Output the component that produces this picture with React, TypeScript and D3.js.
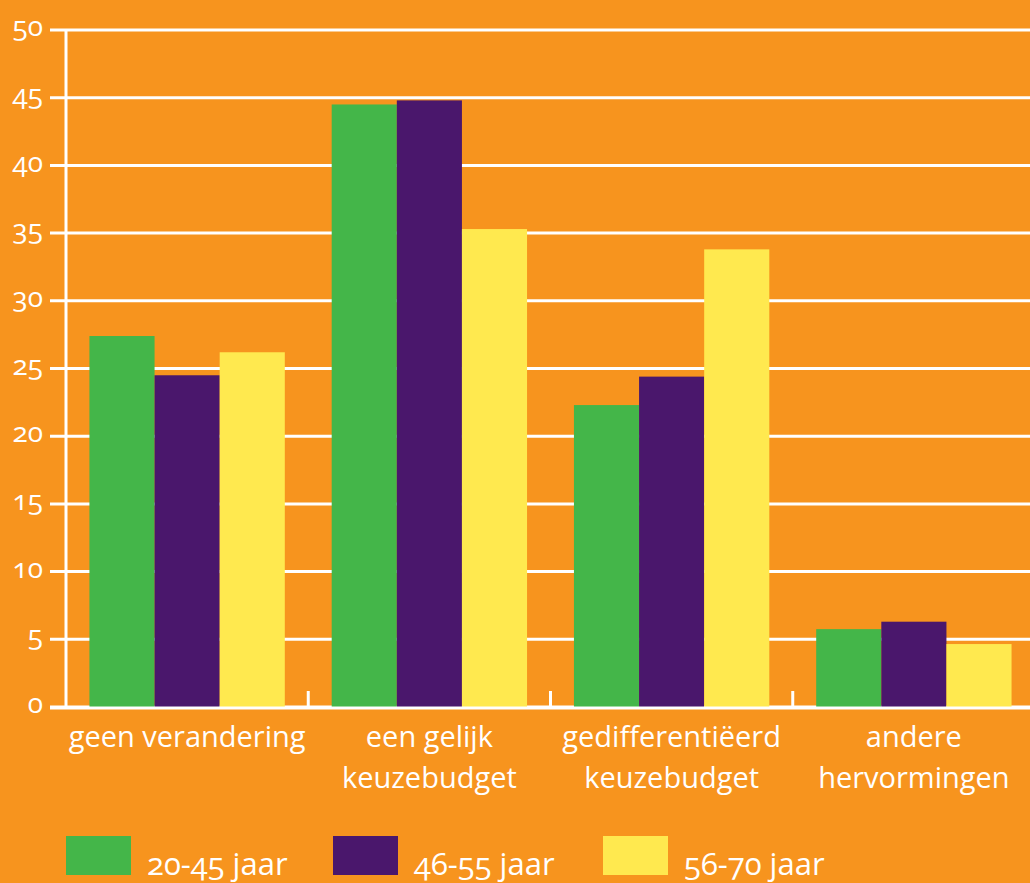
import { useRef, useEffect } from 'react';
import * as d3 from 'd3';

const categories = [
  ['geen verandering'],
  ['een gelijk', 'keuzebudget'],
  ['gedifferentiëerd', 'keuzebudget'],
  ['andere', 'hervormingen'],
];
const seriesNames = ['20-45 jaar', '46-55 jaar', '56-70 jaar'];
const seriesColors = ['#44B649', '#4A176C', '#FFE94F'];
const age20to45 = [27.4, 44.5, 22.3, 5.75];
const age46to55 = [24.5, 44.8, 24.4, 6.3];
const age56to70 = [26.2, 35.3, 33.8, 4.65];
const yTicks = [0, 5, 10, 15, 20, 25, 30, 35, 40, 45, 50];

const BG = '#F7941E';
const FONT = "'Open Sans', 'DejaVu Sans', sans-serif";

export default function App() {
  const svgRef = useRef<SVGSVGElement>(null);

  useEffect(() => {
    if (!svgRef.current) return;
    document.body.style.margin = '0';
    const width = 1030;
    const height = 883;
    const svg = d3.select(svgRef.current);
    svg.selectAll('*').remove();
    svg.attr('width', width).attr('height', height);

    svg.append('rect').attr('width', width).attr('height', height).attr('fill', BG);

    const series = [age20to45, age46to55, age56to70];
    const catKeys = categories.map((c) => c.join(' '));

    const x = d3.scaleBand<string>().domain(catKeys).range([66, 1035]);
    const inner = d3
      .scaleBand<number>()
      .domain(d3.range(series.length))
      .range([0, x.bandwidth()])
      .paddingOuter(0.36)
      .paddingInner(0);
    const y = d3.scaleLinear().domain([0, 50]).range([707, 30]);

    // gridlines
    svg
      .append('g')
      .selectAll('line')
      .data(yTicks)
      .enter()
      .append('line')
      .attr('x1', 50)
      .attr('x2', width)
      .attr('y1', (d) => y(d))
      .attr('y2', (d) => y(d))
      .attr('stroke', '#fff')
      .attr('stroke-width', 3);

    // y axis line
    svg
      .append('line')
      .attr('x1', 66)
      .attr('x2', 66)
      .attr('y1', y(50))
      .attr('y2', y(0))
      .attr('stroke', '#fff')
      .attr('stroke-width', 3);

    // y tick labels
    svg
      .append('g')
      .selectAll('text')
      .data(yTicks)
      .enter()
      .append('text')
      .attr('x', 43)
      .attr('y', (d) => y(d))
      .attr('dy', '0.22em')
      .attr('text-anchor', 'end')
      .attr('fill', '#fff')
      .attr('font-family', FONT)
      .attr('font-size', '28px')
      .style('font-variant-numeric', 'oldstyle-nums')
      .text((d) => d);

    // bars
    const groups = svg
      .append('g')
      .selectAll('g')
      .data(catKeys)
      .enter()
      .append('g')
      .attr('transform', (d) => `translate(${x(d)},0)`);

    groups
      .selectAll('rect')
      .data((_, ci) => series.map((s, si) => ({ si, v: s[ci] })))
      .enter()
      .append('rect')
      .attr('x', (d) => inner(d.si) || 0)
      .attr('width', inner.bandwidth())
      .attr('y', (d) => y(d.v))
      .attr('height', (d) => y(0) - y(d.v))
      .attr('fill', (d) => seriesColors[d.si]);

    // baseline
    svg
      .append('line')
      .attr('x1', 50)
      .attr('x2', width)
      .attr('y1', y(0) + 1)
      .attr('y2', y(0) + 1)
      .attr('stroke', '#fff')
      .attr('stroke-width', 3);

    // category separator ticks
    svg
      .append('g')
      .selectAll('line')
      .data(catKeys.slice(1))
      .enter()
      .append('line')
      .attr('x1', (d) => x(d) || 0)
      .attr('x2', (d) => x(d) || 0)
      .attr('y1', y(0) - 16)
      .attr('y2', y(0))
      .attr('stroke', '#fff')
      .attr('stroke-width', 3);

    // category labels
    categories.forEach((lines, i) => {
      const cx = (x(catKeys[i]) || 0) + x.bandwidth() / 2;
      const t = svg
        .append('text')
        .attr('text-anchor', 'middle')
        .attr('fill', '#fff')
        .attr('font-family', FONT)
        .attr('font-size', '29px');
      lines.forEach((ln, li) => {
        t.append('tspan').attr('x', cx).attr('y', 747 + li * 41).text(ln);
      });
    });

    // legend
    const legendX = [66, 333, 603];
    seriesNames.forEach((name, i) => {
      svg
        .append('rect')
        .attr('x', legendX[i])
        .attr('y', 836)
        .attr('width', 65)
        .attr('height', 39)
        .attr('fill', seriesColors[i]);
      svg
        .append('text')
        .attr('x', legendX[i] + 81)
        .attr('y', 875)
        .attr('fill', '#fff')
        .attr('font-family', FONT)
        .attr('font-size', '31px')
        .style('font-variant-numeric', 'oldstyle-nums')
        .text(name);
    });
  }, []);

  return <svg ref={svgRef} style={{ display: 'block' }} />;
}
